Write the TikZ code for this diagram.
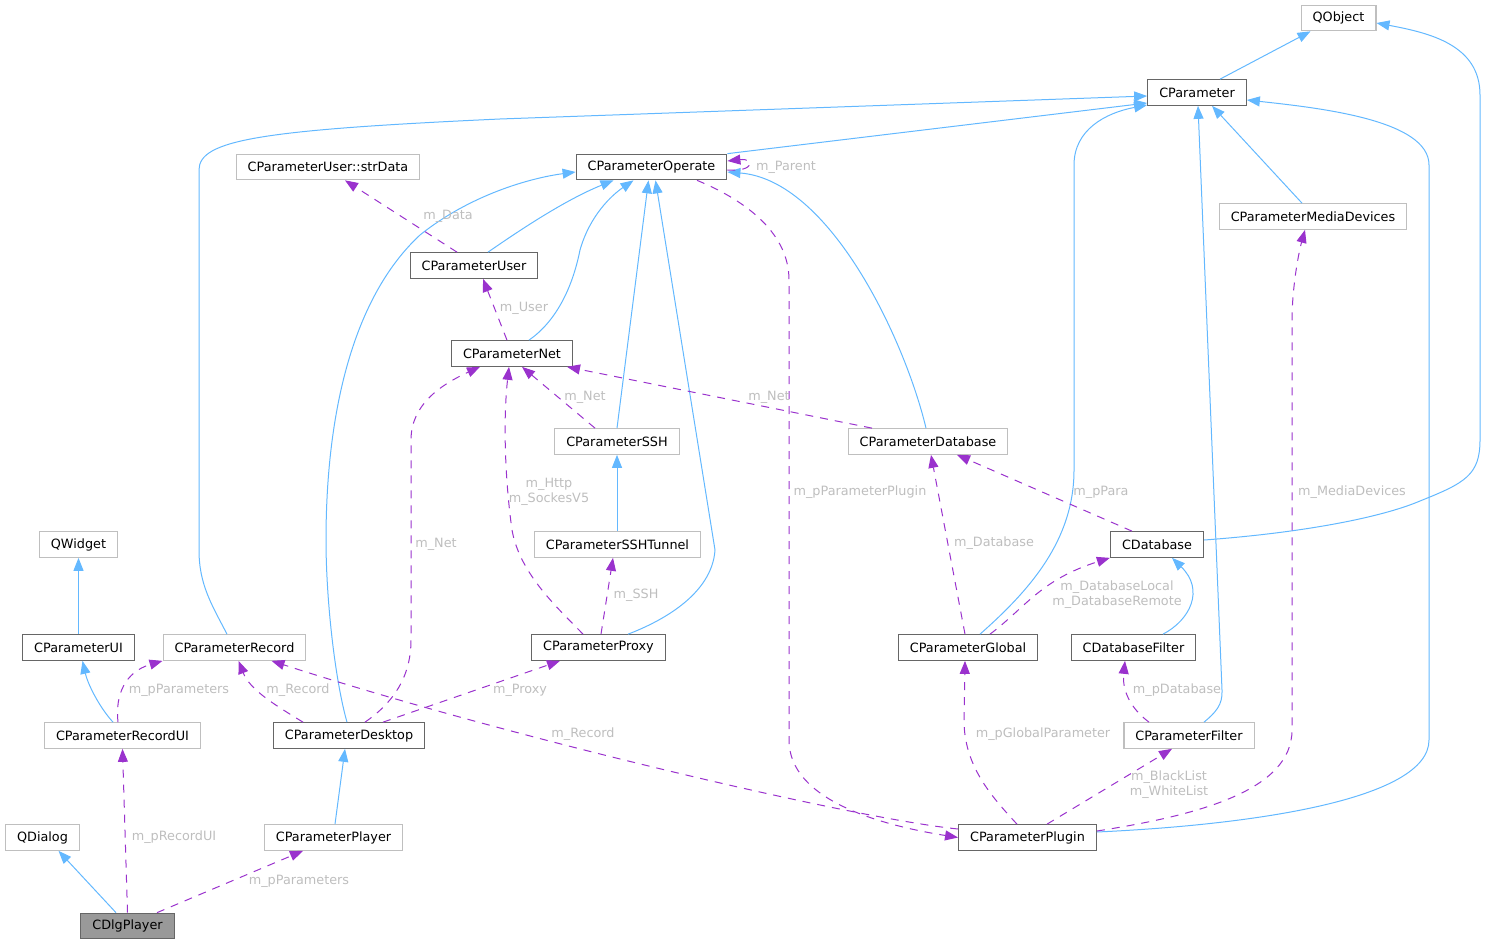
\documentclass[tikz,border=0pt]{standalone}
\usepackage{fontspec}
\setmainfont{DejaVu Sans}
\usetikzlibrary{arrows.meta}

\definecolor{inhblue}{HTML}{63B8FF}
\definecolor{usepurple}{HTML}{9A32CD}
\definecolor{lblgray}{HTML}{BEBEBE}
\definecolor{darkbox}{HTML}{666666}
\definecolor{lightbox}{HTML}{BFBFBF}
\definecolor{focusfill}{HTML}{999999}

\begin{document}
\begin{tikzpicture}[x=1pt, y=-1pt, font=\fontsize{12.8}{15}\selectfont]
    % Define styles
    \tikzstyle{cls} = [rectangle, draw=darkbox, fill=white, line width=1.2pt, minimum height=25.5pt, inner xsep=11.5pt, inner ysep=0pt]
    \tikzstyle{ext} = [cls, draw=lightbox]
    \tikzstyle{focus} = [cls, fill=focusfill]
    \tikzstyle{inherit} = [draw=inhblue, line width=1pt, -{Triangle[length=13pt,width=10pt]}]
    \tikzstyle{uses} = [draw=usepurple, line width=1pt, dash pattern=on 8pt off 7pt, -{Triangle[length=13pt,width=10pt]}]
    \tikzstyle{lbl} = [text=lblgray, inner sep=0pt, align=center]

    \useasboundingbox (0,0) rectangle (1485,944);

    % Nodes
    \node[ext] (qobject) at (1338.5,18) {QObject};
    \node[cls] (param) at (1197,92.5) {CParameter};
    \node[cls] (operate) at (651.5,167) {CParameterOperate};
    \node[ext] (strdata) at (328,167) {CParameterUser::strData};
    \node[ext] (media) at (1313,216.5) {CParameterMediaDevices};
    \node[cls] (user) at (474,265.5) {CParameterUser};
    \node[cls] (net) at (512,353.5) {CParameterNet};
    \node[ext] (ssh) at (617,441.5) {CParameterSSH};
    \node[ext] (database) at (928,441.5) {CParameterDatabase};
    \node[ext] (qwidget) at (78.5,544.5) {QWidget};
    \node[ext] (tunnel) at (617.5,544.5) {CParameterSSHTunnel};
    \node[cls] (cdb) at (1157,544.5) {CDatabase};
    \node[cls] (paramui) at (78.5,647.5) {CParameterUI};
    \node[ext] (record) at (234.5,647.5) {CParameterRecord};
    \node[cls] (proxy) at (598.5,647.5) {CParameterProxy};
    \node[cls] (global) at (968,647.5) {CParameterGlobal};
    \node[cls] (dbfilter) at (1133.5,647.5) {CDatabaseFilter};
    \node[ext] (recordui) at (122.5,735.5) {CParameterRecordUI};
    \node[cls] (desktop) at (349,735.5) {CParameterDesktop};
    \node[ext] (filter) at (1189,735.5) {CParameterFilter};
    \node[ext] (qdialog) at (42.5,837.5) {QDialog};
    \node[ext] (player) at (333.5,837.5) {CParameterPlayer};
    \node[cls] (plugin) at (1027.5,837.5) {CParameterPlugin};
    \node[focus] (dlgplayer) at (127.5,926) {CDlgPlayer};

    % Inheritance
    \draw[inherit] ([xshift=23pt]param.north) -- ([xshift=-28pt]qobject.south);
    \draw[inherit] ([yshift=4.5pt]cdb.east) .. controls (1300,533) and (1380,518) .. (1420,501) .. controls (1465,483) and (1480,475) .. (1480,440) -- (1480,95) .. controls (1480,45) and (1430,33) .. ([yshift=-5pt]qobject.east);
    \draw[inherit] (operate.north east) -- ([yshift=-10.5pt]param.west);
    \draw[inherit] ([xshift=-7.5pt]record.north) .. controls (212,605) and (199,585) .. (199,550) -- (199,170) .. controls (199,140) and (260,130) .. (500,119) -- ([yshift=-3.5pt]param.west);
    \draw[inherit] ([xshift=12pt]global.north) .. controls (1030,590) and (1074,540) .. (1074,470) -- (1074,165) .. controls (1074,130) and (1105,113) .. ([yshift=-12.5pt]param.west);
    \draw[inherit] ([xshift=15pt]filter.north) .. controls (1215,713) and (1223,705) .. (1222,690) -- ([xshift=1pt]param.south);
    \draw[inherit] ([xshift=-11pt]media.north) -- ([xshift=15pt]param.south);
    \draw[inherit] ([yshift=5.5pt]plugin.east) .. controls (1250,825) and (1429,800) .. (1429,740) -- (1429,165) .. controls (1429,120) and (1320,108) .. ([yshift=-7.5pt]param.east);
    \draw[inherit] ([xshift=14pt]user.north) .. controls (520,230) and (565,200) .. ([xshift=-38pt]operate.south);
    \draw[inherit] ([xshift=17pt]net.north) .. controls (555,322) and (572,290) .. (580,250) .. controls (590,215) and (612,195) .. ([xshift=-18pt]operate.south);
    \draw[inherit] (ssh.north) -- ([xshift=-3pt]operate.south);
    \draw[inherit] ([xshift=29.5pt]proxy.north) .. controls (660,622) and (712,595) .. (715,550) -- ([xshift=4pt]operate.south);
    \draw[inherit] ([xshift=-2pt]database.north) .. controls (905,340) and (830,180) .. ([yshift=-5pt]operate.east);
    \draw[inherit] ([xshift=-2pt]desktop.north) .. controls (335,680) and (326,600) .. (326,540) .. controls (326,420) and (350,300) .. (420,235) .. controls (470,195) and (530,178) .. ([yshift=-5pt]operate.west);
    \draw[inherit] ([xshift=-0.5pt]tunnel.north) -- (ssh.south);
    \draw[inherit] ([xshift=29.5pt]dbfilter.north) .. controls (1190,620) and (1205,590) .. ([xshift=15pt]cdb.south);
    \draw[inherit] ([xshift=-9.5pt]recordui.north) .. controls (100,708) and (88,685) .. ([xshift=4pt]paramui.south);
    \draw[inherit] (paramui.north) -- (qwidget.south);
    \draw[inherit] ([xshift=1.5pt]player.north) -- ([xshift=-4pt]desktop.south);
    \draw[inherit] ([xshift=-11.5pt]dlgplayer.north) -- ([xshift=16pt]qdialog.south);

    % Usage
    \draw[uses] ([xshift=-17pt]user.north) -- ([xshift=17pt]strdata.south);
    \draw[uses] ([xshift=-5pt]net.north) -- ([xshift=9pt]user.south);
    \draw[uses] ([yshift=-3pt]operate.east) .. controls (755,172) and (755,158) .. ([yshift=6pt]operate.east);
    \draw[uses] ([xshift=-22pt]ssh.north) -- ([xshift=10pt]net.south);
    \draw[uses] ([xshift=-56pt]database.north) -- ([xshift=55pt]net.south);
    \draw[uses] ([xshift=-15.5pt]proxy.north) .. controls (560,610) and (520,575) .. (512,530) .. controls (505,480) and (503,420) .. ([xshift=-3pt]net.south);
    \draw[uses] ([xshift=2.5pt]proxy.north) -- ([xshift=-4.5pt]tunnel.south);
    \draw[uses] ([xshift=16pt]desktop.north) .. controls (390,705) and (411,680) .. (411,640) -- (411,440) .. controls (411,405) and (440,385) .. ([xshift=-32pt]net.south);
    \draw[uses] ([xshift=-46pt]desktop.north) .. controls (275,705) and (250,690) .. ([xshift=4pt]record.south);
    \draw[uses] ([xshift=34pt]desktop.north) -- ([xshift=-38.5pt]proxy.south);
    \draw[uses] ([xshift=-4.5pt]recordui.north) .. controls (115,695) and (125,672) .. (record.south west);
    \draw[uses] (dlgplayer.north) -- (recordui.south);
    \draw[uses] ([xshift=29.5pt]dlgplayer.north) -- ([xshift=-30.5pt]player.south);
    \draw[uses] ([yshift=8.5pt]plugin.west) .. controls (850,818) and (500,735) .. ([xshift=37pt]record.south);
    \draw[uses] ([xshift=45.5pt]operate.south) .. controls (740,198) and (789,230) .. (789,280) -- (789,740) .. controls (789,800) and (880,825) .. (plugin.west);
    \draw[uses] ([xshift=-3pt]global.north) -- ([xshift=3pt]database.south);
    \draw[uses] ([xshift=-25pt]cdb.north) -- ([xshift=29pt]database.south);
    \draw[uses] ([xshift=22pt]global.north) .. controls (1025,608) and (1040,580) .. (cdb.south west);
    \draw[uses] ([xshift=-40pt]filter.north) .. controls (1130,708) and (1122,690) .. ([xshift=-8.5pt]dbfilter.south);
    \draw[uses] ([xshift=-10.5pt]plugin.north) .. controls (990,795) and (964,765) .. (964,720) -- ([xshift=-3pt]global.south);
    \draw[uses] ([xshift=19.5pt]plugin.north) -- ([xshift=-17pt]filter.south);
    \draw[uses] ([yshift=6.5pt]plugin.east) .. controls (1200,815) and (1292,790) .. (1292,730) -- (1292,320) .. controls (1292,290) and (1298,255) .. ([xshift=-8pt]media.south);

    % Labels
    \node[lbl] (lData) at (448,216) {m\_Data};
    \node[lbl] (lUser) at (524,308) {m\_User};
    \node[lbl] (lParent) at (786,167) {m\_Parent};
    \node[lbl] (lNetSsh) at (585,397) {m\_Net};
    \node[lbl] (lNetDb) at (769,397) {m\_Net};
    \node[lbl] (lHttp) at (549,492) {m\_Http\\m\_SockesV5};
    \node[lbl] (lPlugin) at (860,492) {m\_pParameterPlugin};
    \node[lbl] (lDatabase) at (994,543) {m\_Database};
    \node[lbl] (lSsh) at (636,595) {m\_SSH};
    \node[lbl] (lNetDesk) at (436,544) {m\_Net};
    \node[lbl] (lPara) at (1101,492) {m\_pPara};
    \node[lbl] (lMedia) at (1352,492) {m\_MediaDevices};
    \node[lbl] (lLocal) at (1117,595) {m\_DatabaseLocal\\m\_DatabaseRemote};
    \node[lbl] (lParamsUi) at (179,690) {m\_pParameters};
    \node[lbl] (lRecDesk) at (298,690) {m\_Record};
    \node[lbl] (lRecordUi) at (174,837) {m\_pRecordUI};
    \node[lbl] (lParamsPl) at (299,881) {m\_pParameters};
    \node[lbl] (lProxy) at (520,690) {m\_Proxy};
    \node[lbl] (lRecPlug) at (583,734) {m\_Record};
    \node[lbl] (lGlobal) at (1043,734) {m\_pGlobalParameter};
    \node[lbl] (lDbPtr) at (1177,690) {m\_pDatabase};
    \node[lbl] (lLists) at (1169,785) {m\_BlackList\\m\_WhiteList};
\end{tikzpicture}
\end{document}
